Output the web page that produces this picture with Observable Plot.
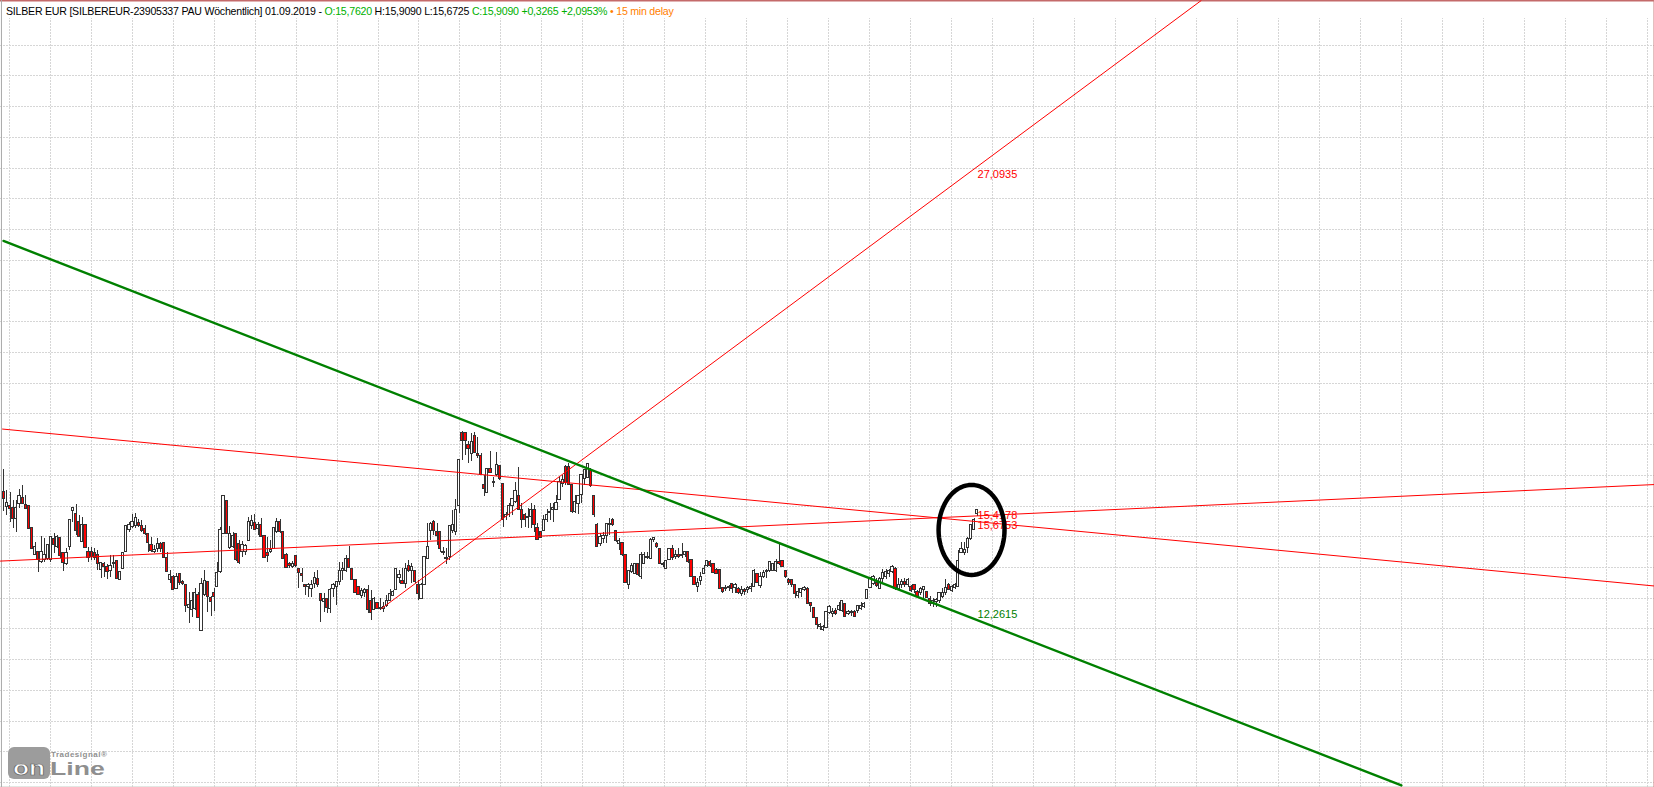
<!DOCTYPE html>
<html lang="de">
<head>
<meta charset="utf-8">
<title>SILBER EUR</title>
<script src="https://cdn.jsdelivr.net/npm/d3@7"></script>
<script src="https://cdn.jsdelivr.net/npm/@observablehq/plot@0.6"></script>
<style>
  html, body { margin: 0; padding: 0; background: #fff; overflow: hidden; }
  #chart { position: relative; width: 1654px; height: 787px; font-family: "Liberation Sans", sans-serif; }
  #chart svg { display: block; }
  #head { position: absolute; left: 6px; top: 5px; font-size: 10.6px; letter-spacing: -0.23px; line-height: 13px; white-space: pre; background: #fff; }
  #logo { position: absolute; left: 8px; top: 747px; width: 100px; height: 33px; color: #8f8f8f; }
  #logo .box { position: absolute; left: 0; top: 0; width: 42px; height: 32px; background: #9c9c9c; border-radius: 6px; }
  #logo .on { position: absolute; left: 5px; top: 11px; font: bold 21px/20px "Liberation Sans", sans-serif; color: #fff; -webkit-text-stroke: 0.7px #666; transform: scaleX(1.25); transform-origin: left top; }
  #logo .small { position: absolute; left: 43px; top: 3px; font: bold 8px/9px "Liberation Sans", sans-serif; letter-spacing: 0.5px; }
  #logo .big { position: absolute; left: 42px; top: 12px; font: bold 19px/20px "Liberation Sans", sans-serif; transform: scaleX(1.4); transform-origin: left top; }
</style>
</head>
<body>
<div id="chart"></div>
<script>
// Weekly candles, oldest first (prices in EUR)
const opens = [
16.38,15.88,15.93,15.86,15.49,15.99,16.19,15.96,15.90,15.17,
14.25,14.38,14.02,14.08,14.14,14.10,14.81,14.55,14.84,14.33,
13.97,14.55,15.74,15.65,15.37,14.70,15.26,14.38,14.36,14.33,
14.25,13.77,13.97,13.86,13.72,13.96,14.05,13.43,13.80,14.36,
15.11,15.20,15.23,15.35,15.23,15.15,14.96,14.59,14.36,14.47,
14.62,14.67,14.17,13.41,13.52,13.13,13.61,13.35,13.24,12.49,
12.42,12.45,12.93,11.69,12.93,13.36,12.82,13.00,13.18,13.69,
14.98,16.10,14.51,14.55,14.98,14.62,14.36,14.36,14.73,15.23,
15.34,15.15,15.26,14.92,14.34,14.36,14.47,15.04,15.37,15.04,
14.25,13.97,13.86,14.23,13.80,13.61,13.27,13.18,13.13,13.29,
13.46,12.96,12.68,12.79,12.45,13.13,13.20,13.35,13.72,13.74,
14.14,13.80,13.43,13.20,12.90,12.98,13.09,12.73,12.42,12.65,
12.45,12.45,12.53,12.73,12.90,13.09,13.50,13.38,13.29,13.89,
13.72,13.72,13.27,12.79,13.27,14.14,15.09,15.37,15.04,15.04,
14.38,14.17,14.19,15.07,15.04,15.90,18.37,18.37,17.96,17.68,
18.26,17.68,17.59,16.61,16.35,17.17,16.69,16.95,17.28,16.67,
15.54,15.60,15.93,16.05,16.27,15.77,15.63,15.52,15.54,15.77,
15.18,15.04,15.09,15.43,15.68,15.77,15.79,16.13,16.67,17.23,
17.23,16.61,15.71,15.99,16.29,16.83,16.87,17.11,16.27,15.29,
14.62,14.81,14.92,15.26,15.43,15.07,14.64,14.67,14.25,13.26,
13.69,13.63,13.97,13.54,13.97,14.16,14.14,14.78,14.64,14.47,
13.93,13.80,14.10,14.47,14.19,14.28,14.22,14.28,14.36,14.08,
13.54,13.18,13.38,13.63,13.89,14.02,13.95,13.77,13.77,13.15,
13.13,13.15,13.29,13.16,13.13,12.96,13.09,13.07,13.13,13.20,
13.63,13.22,13.52,13.69,13.72,13.74,13.74,14.02,14.06,13.74,
13.43,13.41,13.26,12.90,12.98,13.09,13.13,12.64,12.49,12.15,
11.83,11.74,11.81,12.31,12.26,12.37,12.40,12.37,12.62,12.28,
12.31,12.36,12.37,12.45,12.51,12.79,13.16,13.29,13.32,13.13,
13.46,13.54,13.61,13.69,13.80,13.13,13.24,13.35,13.24,13.20,
13.24,13.01,12.98,13.09,13.01,12.79,12.62,12.68,12.70,12.85,
12.98,13.24,13.05,13.16,13.18,14.33,14.33,14.51,14.81,15.12,15.64];
const highs = [
17.14,16.44,16.38,16.10,16.10,16.47,16.60,16.27,15.90,15.17,
14.67,14.38,14.90,14.81,14.59,14.87,14.98,14.92,14.84,14.33,
14.47,15.45,15.86,15.97,15.60,15.54,15.26,14.53,14.51,14.47,
14.42,14.02,14.02,13.95,14.25,14.25,14.05,13.69,14.36,15.23,
15.37,15.62,15.65,15.45,15.43,15.26,14.98,14.84,14.59,14.81,
14.70,14.67,14.36,13.74,13.58,13.63,13.65,13.41,13.24,13.01,
13.01,13.13,13.01,13.46,13.74,13.36,12.87,13.13,14.02,15.20,
16.27,16.10,15.23,15.04,14.98,14.76,14.73,14.62,15.54,15.60,
15.62,15.37,15.49,14.92,14.84,14.76,15.18,15.49,15.45,15.04,
14.31,14.02,14.06,14.23,13.80,13.80,13.27,13.29,13.41,13.69,
13.74,12.96,12.96,12.79,13.13,13.32,13.35,14.02,14.02,14.25,
14.55,13.80,13.43,13.20,13.13,13.13,13.24,13.07,12.84,12.65,
12.79,12.68,12.90,13.09,13.07,13.80,13.74,13.80,13.97,14.08,
13.97,13.72,13.41,13.29,14.22,15.34,15.37,15.43,15.32,15.04,
14.53,14.47,15.26,15.77,16.13,17.47,18.43,18.41,18.10,18.37,
18.41,18.22,17.68,16.95,17.17,17.76,16.89,17.71,17.28,16.67,
15.71,15.99,16.16,16.72,17.23,15.99,15.65,15.82,15.99,15.93,
15.32,15.04,15.60,15.79,15.99,15.99,16.27,16.89,16.95,17.28,
17.34,16.61,16.27,16.27,16.97,17.14,17.34,17.17,16.27,15.32,
14.98,15.04,15.32,15.49,15.51,15.07,14.81,14.67,14.25,13.74,
13.97,13.97,13.97,14.36,14.36,14.36,14.81,14.87,14.67,14.47,
14.02,14.08,14.47,14.59,14.42,14.47,14.64,14.36,14.36,14.08,
13.54,13.46,13.69,13.91,14.08,14.08,13.97,13.80,13.77,13.18,
13.24,13.24,13.32,13.29,13.18,13.20,13.13,13.20,13.32,13.77,
13.63,13.69,13.74,13.77,14.02,13.97,14.10,14.64,14.06,13.74,
13.46,13.43,13.26,13.13,13.13,13.20,13.18,12.68,12.51,12.17,
11.97,11.89,12.37,12.56,12.45,12.45,12.68,12.73,12.62,12.40,
12.40,12.40,12.56,12.67,12.67,13.09,13.52,13.58,13.46,13.52,
13.77,13.77,13.77,13.91,13.83,13.46,13.43,13.46,13.46,13.24,
13.27,13.07,13.18,13.21,13.01,12.87,12.79,12.79,13.01,13.13,
13.43,13.30,13.24,13.30,14.42,14.67,14.70,14.87,15.26,15.49,15.79];
const lows = [
15.74,15.60,15.37,15.15,15.04,15.82,15.97,15.82,15.15,14.44,
14.25,13.69,13.99,14.02,14.08,14.02,14.31,14.47,14.14,13.72,
13.91,14.40,15.37,14.92,14.87,14.70,14.47,14.02,14.08,14.08,
13.74,13.46,13.52,13.43,13.52,13.80,13.43,13.41,13.80,14.36,
15.04,15.15,15.15,15.20,15.04,14.92,14.36,14.36,14.31,14.36,
14.36,14.14,13.69,13.29,13.07,13.09,13.24,13.24,12.34,11.95,
12.17,12.40,12.11,11.67,12.87,12.34,12.19,12.37,13.18,13.65,
14.98,14.98,14.44,14.47,14.06,13.95,14.19,14.25,14.73,15.11,
15.09,14.92,14.84,14.17,14.02,14.31,14.44,14.98,14.98,14.10,
13.80,13.80,13.80,13.86,13.13,13.35,12.90,12.84,12.84,13.13,
13.18,11.98,12.34,12.31,12.31,12.84,12.56,13.24,13.41,13.69,
13.80,13.41,12.96,12.90,12.79,12.84,12.28,12.06,12.40,12.45,
12.40,12.34,12.49,12.73,12.87,13.07,13.29,13.29,13.13,13.69,
13.29,13.29,12.73,12.77,13.24,14.10,14.76,14.92,14.59,14.36,
14.25,13.95,14.08,14.98,14.92,15.65,17.45,17.62,17.36,17.40,
17.68,17.51,16.95,16.22,16.33,17.00,16.55,16.91,16.78,15.18,
15.43,15.54,15.60,15.99,15.77,15.15,15.18,15.15,15.15,15.04,
14.76,14.81,15.07,15.37,15.43,15.37,15.77,16.13,16.55,16.61,
16.61,15.68,15.65,15.63,15.99,16.61,16.83,16.55,15.54,14.51,
14.55,14.64,14.64,14.92,15.23,14.67,14.42,14.22,13.29,13.09,
13.65,13.61,13.54,13.43,13.95,14.10,14.10,14.67,14.47,13.95,
13.86,13.77,14.08,14.08,14.10,14.14,14.14,14.19,13.99,13.50,
13.24,13.01,13.24,13.61,13.86,13.86,13.63,13.61,13.09,12.98,
13.05,13.05,12.98,12.96,12.93,12.87,12.90,12.96,13.01,13.18,
13.29,13.13,13.46,13.46,13.69,13.72,13.69,13.91,13.83,13.46,
13.24,13.18,12.79,12.79,12.84,13.05,12.60,12.34,12.11,11.74,
11.72,11.70,11.78,12.26,12.17,12.23,12.37,12.34,12.17,12.23,
12.19,12.15,12.31,12.40,12.45,12.79,13.13,13.24,13.18,13.09,
13.35,13.43,13.52,13.65,13.07,13.07,13.13,13.16,13.18,13.01,
12.98,12.82,12.90,12.79,12.79,12.53,12.51,12.49,12.62,12.79,
12.90,13.07,13.01,13.09,13.16,14.31,14.25,14.31,14.76,15.09,15.55];
const closes = [
16.16,16.01,15.82,15.49,15.86,16.27,15.97,15.82,15.15,14.47,
14.53,14.10,14.36,14.25,14.59,14.87,14.59,14.87,14.22,13.99,
14.33,15.45,15.86,15.07,14.87,15.26,14.51,14.16,14.19,14.17,
13.95,13.99,13.86,13.69,13.91,13.99,13.46,13.69,14.33,15.23,
15.29,15.37,15.51,15.24,15.09,14.96,14.67,14.40,14.42,14.64,
14.47,14.17,13.69,13.58,13.09,13.54,13.32,13.29,12.53,12.59,
12.73,12.98,12.14,13.29,13.38,12.84,12.68,12.84,13.67,15.11,
16.24,14.98,14.96,14.92,14.08,13.99,14.59,14.56,15.37,15.40,
15.11,15.29,14.87,14.17,14.22,14.44,15.18,15.37,15.04,14.14,
13.83,13.90,13.95,13.89,13.65,13.56,13.18,13.24,13.24,13.50,
13.24,12.71,12.79,12.49,13.10,13.27,13.35,13.71,13.80,14.14,
13.82,13.43,12.98,12.92,13.05,13.07,12.40,12.31,12.79,12.45,
12.49,12.51,12.71,12.96,13.01,13.80,13.58,13.29,13.80,13.74,
13.86,13.35,12.96,13.24,14.19,14.55,15.32,15.09,14.92,14.47,
14.33,14.13,15.23,15.28,15.77,17.47,18.10,18.10,17.84,18.07,
17.70,17.59,16.95,16.50,17.17,17.04,16.72,17.31,16.83,15.45,
15.63,15.93,16.14,16.41,15.79,15.45,15.45,15.56,15.79,15.29,
14.78,14.84,15.45,15.63,15.71,15.86,16.01,16.74,16.78,16.69,
16.64,15.71,16.05,16.25,16.97,17.14,17.34,16.58,15.60,14.55,
14.87,14.90,15.32,15.32,15.26,14.73,14.73,14.25,13.32,13.72,
13.91,13.97,13.58,14.25,14.27,14.19,14.76,14.83,14.53,13.97,
13.97,14.06,14.47,14.17,14.28,14.19,14.28,14.36,14.02,13.52,
13.27,13.32,13.54,13.80,14.06,13.91,13.65,13.61,13.13,13.01,
13.16,13.18,13.13,13.24,12.98,13.09,13.01,13.15,13.18,13.74,
13.33,13.52,13.65,13.72,14.02,13.95,14.02,13.95,13.86,13.52,
13.32,13.24,12.96,13.01,13.13,13.15,12.62,12.53,12.15,11.92,
11.92,11.83,12.34,12.51,12.34,12.28,12.56,12.71,12.19,12.34,
12.34,12.17,12.53,12.56,12.62,13.07,13.50,13.52,13.21,13.46,
13.65,13.69,13.72,13.86,13.13,13.27,13.35,13.24,13.41,13.05,
13.07,12.85,13.13,13.18,12.82,12.62,12.71,12.76,12.98,12.98,
13.15,13.09,13.18,13.24,14.06,14.47,14.44,14.81,15.26,15.45,15.79];

// Trend lines: [week, price] at both ends
const greenTrend = [[-0.1, 24.85], [445.1, 6.50]];
const redRising  = [[120.3, 12.46], [381.3, 32.95]];
const redFalling = [[-0.4, 18.51], [525.7, 13.22]];
const redFlat    = [[-1.05, 14.06], [525.7, 16.64]];

// Line value labels
const labelTexts  = ["27,0935", "15,4178", "15,6753", "12,2615"];
const labelPrices = [27.09, 15.60, 15.26, 12.26];
const labelColors = ["#ff0000", "#ff0000", "#ff0000", "#008000"];
const labelWeek = 310.1;

// Hand-drawn circle around the last weeks
const ringCentre = {week: 308.2, price: 15.11, rWeek: 10.5, rPrice: 1.517};

// Axis extents and grid
const weekDomain = [-1.05, 525.7];
const priceDomain = [6.429, 32.954];
const gridWeeks = d3.range(1.815, 525.7, 13.04);
const gridPrices = d3.range(6.598, 32, 1.0354);
const gridTopPrice = 32.35;

// Header pieces
const headerParts = [
  ["SILBER EUR [SILBEREUR-23905337 PAU Wöchentlich] 01.09.2019 - ", "#000"],
  ["O:15,7620", "#00b000"],
  [" H:15,9090 L:15,6725 ", "#000"],
  ["C:15,9090 +0,3265 +2,0953%", "#00b000"],
  [" • 15 min delay", "#ff8000"]
];

const candles = opens.map((o, i) => ({week: i, o, h: highs[i], l: lows[i], c: closes[i]}));
const ring = d3.range(0, 72).map(k => ({
  week: ringCentre.week + ringCentre.rWeek * Math.cos(k * Math.PI / 36),
  price: ringCentre.price + ringCentre.rPrice * Math.sin(k * Math.PI / 36)
}));
const labels = labelTexts.map((t, i) => ({t, p: labelPrices[i], col: labelColors[i]}));
const gridStyle = {stroke: "#d6d6d6", strokeWidth: 1, strokeDasharray: "2 1", shapeRendering: "crispEdges"};

const plot = Plot.plot({
  width: 1654,
  height: 787,
  margin: 0,
  x: {domain: weekDomain, axis: null},
  y: {domain: priceDomain, axis: null},
  color: {type: "identity"},
  style: {background: "#fff", overflow: "hidden"},
  marks: [
    Plot.ruleX(gridWeeks, {...gridStyle, y1: priceDomain[0], y2: gridTopPrice}),
    Plot.ruleY(gridPrices, gridStyle),
    Plot.ruleY([priceDomain[1]], {stroke: "#c46a6a", strokeWidth: 2}),
    Plot.ruleY([priceDomain[0]], {stroke: "#c8d0c8", strokeWidth: 2}),
    Plot.ruleX([weekDomain[1]], {stroke: "#c88080", strokeWidth: 2}),
    Plot.ruleX([weekDomain[0] + 0.3], {stroke: "#a8a8a8", strokeWidth: 1}),
    Plot.ruleX(candles, {x: "week", y1: "l", y2: "h", stroke: "#333", strokeWidth: 1, shapeRendering: "crispEdges"}),
    Plot.rect(candles, {
      x1: d => d.week - 0.36, x2: d => d.week + 0.36,
      y1: "o", y2: "c",
      fill: d => d.c < d.o ? "#ff0000" : "#ffffff",
      stroke: "#333", strokeWidth: 1, shapeRendering: "crispEdges"
    }),
    Plot.line(redFalling, {stroke: "#ff0000", strokeWidth: 1}),
    Plot.line(redFlat, {stroke: "#ff0000", strokeWidth: 1}),
    Plot.line(redRising, {stroke: "#ff0000", strokeWidth: 1}),
    Plot.line(greenTrend, {stroke: "#008000", strokeWidth: 2.4}),
    Plot.text(labels, {x: labelWeek, y: "p", text: "t", fill: "col", textAnchor: "start",
      fontSize: 11, fontFamily: "Liberation Sans"}),
    Plot.line(ring, {x: "week", y: "price", curve: "linear-closed", stroke: "#000", strokeWidth: 4.5})
  ]
});

const chart = document.getElementById("chart");
chart.append(plot);

const head = document.createElement("div");
head.id = "head";
for (const [text, colour] of headerParts) {
  const s = document.createElement("span");
  s.textContent = text;
  s.style.color = colour;
  head.append(s);
}
chart.append(head);

const logo = document.createElement("div");
logo.id = "logo";
logo.innerHTML = '<div class="box"></div><div class="on">on</div><div class="small">Tradesignal®</div><div class="big">Line</div>';
chart.append(logo);
</script>
</body>
</html>
